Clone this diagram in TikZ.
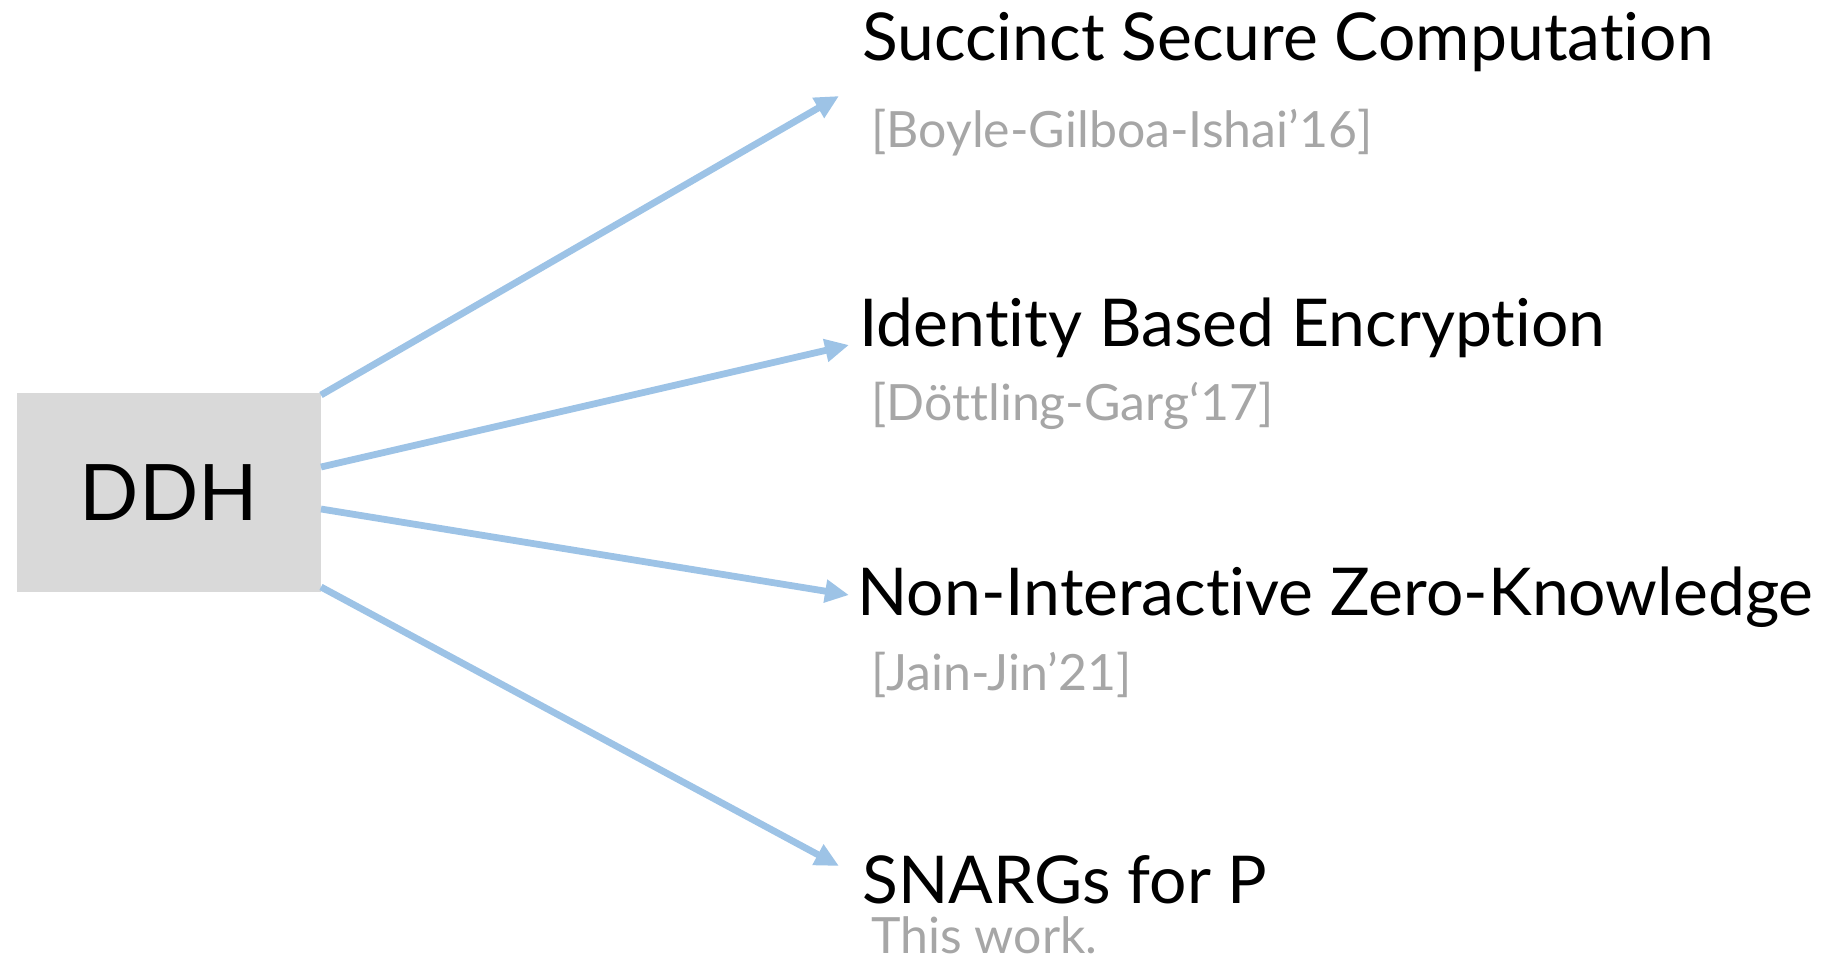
\documentclass[tikz,border=0pt]{standalone}
\usepackage{fontspec}
\setmainfont{Lato}[Ligatures=NoCommon]
\usetikzlibrary{arrows.meta}
\definecolor{boxgray}{HTML}{D9D9D9}
\definecolor{arrowblue}{HTML}{9DC3E6}
\definecolor{refgray}{HTML}{A6A6A6}
\begin{document}
\begin{tikzpicture}[x=0.5pt,y=-0.5pt,
  title/.style={anchor=base west, inner sep=0pt, font=\fontsize{33}{38}\selectfont},
  ref/.style={anchor=base west, inner sep=0pt, text=refgray, font=\fontsize{25}{28}\selectfont},
  conn/.style={draw=arrowblue, line width=3.4pt, -{Triangle[length=12pt,width=11pt]}},
]
\useasboundingbox (0,0) rectangle (1821,960);
\node[fill=boxgray, minimum width=152pt, minimum height=99.5pt, inner sep=0pt,
      font=\fontsize{39}{46}\selectfont] (ddh) at (169,492.5) {DDH};

\node[title] (t1) at (862,60) {Succinct Secure Computation};
\node[ref]   (r1) at (871,147) {[Boyle-Gilboa-Ishai’16]};
\node[title] (t2) at (859,346) {Identity Based Encryption};
\node[ref]   (r2) at (871,420) {[Döttling-Garg‘17]};
\node[title] (t3) at (857,615) {Non-Interactive Zero-Knowledge};
\node[ref]   (r3) at (871,690) {[Jain-Jin’21]};
\node[title, text depth=0pt] (t4) at (862,903) {SNARGs for P};
\node[ref, text depth=0pt, text height=18.5pt] (r4) at (871,953) {This work.};

\coordinate (s1) at (321,395);
\coordinate (s2) at (321,467);
\coordinate (s3) at (321,509);
\coordinate (s4) at (321,587);
\coordinate (e1) at (839,96);
\coordinate (e2) at (849,345);
\coordinate (e3) at (849,595);
\coordinate (e4) at (839,866);

\draw[conn] (s1) -- (e1);
\draw[conn] (s2) -- (e2);
\draw[conn] (s3) -- (e3);
\draw[conn] (s4) -- (e4);
\end{tikzpicture}
\end{document}
